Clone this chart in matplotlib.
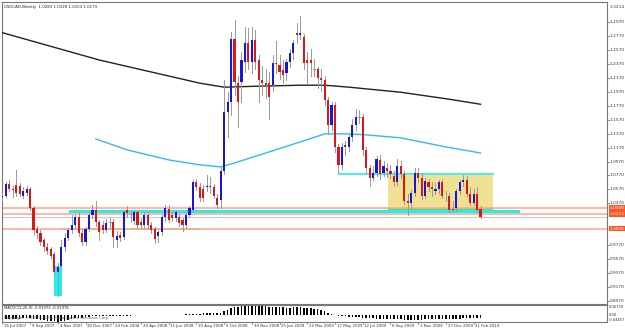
import matplotlib
matplotlib.use("Agg")
import matplotlib.pyplot as plt
from matplotlib.patches import Rectangle

# weekly USDCAD candles, bar 0 = 15 Jul 2007
opens = [1.046, 1.048, 1.065, 1.057, 1.064, 1.062, 1.048, 1.052, 1.057, 1.030,
         1.000, 0.995, 0.984, 0.974, 0.971, 0.964, 0.938, 0.947, 0.975, 0.988,
         0.999, 1.006, 1.017, 0.995, 0.982, 1.000, 1.020, 1.027, 1.010, 1.006,
         0.999, 1.010, 1.010, 0.985, 0.992, 0.989, 1.027, 1.022, 1.012, 1.024,
         1.010, 1.006, 1.020, 1.006, 1.000, 0.990, 0.996, 1.017, 1.029, 1.020,
         1.016, 1.017, 1.013, 1.006, 1.020, 1.027, 1.067, 1.060, 1.058, 1.060,
         1.062, 1.060, 1.045, 1.042, 1.084, 1.168, 1.182, 1.272, 1.210, 1.211,
         1.239, 1.267, 1.239, 1.271, 1.242, 1.214, 1.210, 1.210, 1.206, 1.238,
         1.235, 1.228, 1.224, 1.239, 1.252, 1.281, 1.278, 1.275, 1.242, 1.242,
         1.229, 1.229, 1.217, 1.214, 1.185, 1.149, 1.178, 1.118, 1.092, 1.120,
         1.118, 1.132, 1.149, 1.161, 1.161, 1.114, 1.087, 1.074, 1.081, 1.099,
         1.081, 1.088, 1.083, 1.076, 1.067, 1.090, 1.079, 1.041, 1.038, 1.052,
         1.081, 1.074, 1.048, 1.067, 1.060, 1.055, 1.058, 1.067, 1.048, 1.047,
         1.029, 1.030, 1.055, 1.067, 1.071, 1.051, 1.038, 1.051, 1.0283]
highs = [1.052, 1.068, 1.070, 1.062, 1.085, 1.066, 1.060, 1.062, 1.060, 1.033,
         1.004, 0.999, 0.988, 0.980, 0.975, 0.967, 0.952, 0.985, 0.995, 1.002,
         1.020, 1.022, 1.025, 1.000, 1.003, 1.024, 1.035, 1.040, 1.013, 1.012,
         1.014, 1.016, 1.014, 0.998, 0.996, 1.028, 1.033, 1.026, 1.028, 1.028,
         1.014, 1.024, 1.024, 1.010, 1.003, 0.998, 1.020, 1.035, 1.034, 1.024,
         1.027, 1.022, 1.016, 1.023, 1.033, 1.070, 1.072, 1.066, 1.064, 1.077,
         1.075, 1.065, 1.050, 1.089, 1.214, 1.196, 1.283, 1.300, 1.219, 1.254,
         1.290, 1.288, 1.290, 1.285, 1.249, 1.234, 1.229, 1.226, 1.249, 1.270,
         1.249, 1.242, 1.244, 1.259, 1.271, 1.295, 1.305, 1.280, 1.254, 1.259,
         1.244, 1.232, 1.229, 1.219, 1.189, 1.183, 1.183, 1.122, 1.124, 1.127,
         1.137, 1.158, 1.173, 1.171, 1.165, 1.118, 1.092, 1.090, 1.105, 1.106,
         1.098, 1.095, 1.092, 1.083, 1.100, 1.098, 1.084, 1.050, 1.056, 1.088,
         1.088, 1.080, 1.074, 1.072, 1.068, 1.066, 1.070, 1.072, 1.055, 1.052,
         1.040, 1.058, 1.070, 1.078, 1.076, 1.060, 1.058, 1.060, 1.0328]
lows = [1.040, 1.046, 1.054, 1.046, 1.047, 1.048, 1.044, 1.049, 1.028, 0.992,
        0.988, 0.978, 0.969, 0.964, 0.958, 0.934, 0.904, 0.944, 0.968, 0.984,
        0.995, 1.002, 0.990, 0.978, 0.978, 0.997, 1.016, 1.004, 0.985, 0.994,
        0.996, 1.002, 0.975, 0.974, 0.983, 0.986, 1.018, 1.010, 1.008, 1.002,
        1.002, 1.002, 1.002, 0.994, 0.980, 0.982, 0.992, 1.012, 1.010, 1.012,
        1.011, 1.005, 0.998, 1.002, 1.017, 1.024, 1.056, 1.040, 1.040, 1.055,
        1.052, 1.044, 1.030, 1.030, 1.079, 1.132, 1.163, 1.193, 1.147, 1.183,
        1.226, 1.229, 1.224, 1.229, 1.183, 1.193, 1.188, 1.158, 1.198, 1.224,
        1.216, 1.209, 1.214, 1.232, 1.244, 1.267, 1.273, 1.229, 1.209, 1.219,
        1.219, 1.203, 1.198, 1.178, 1.137, 1.142, 1.110, 1.081, 1.086, 1.107,
        1.112, 1.127, 1.142, 1.152, 1.107, 1.081, 1.062, 1.070, 1.076, 1.072,
        1.076, 1.075, 1.074, 1.062, 1.063, 1.074, 1.036, 1.020, 1.030, 1.048,
        1.068, 1.043, 1.044, 1.055, 1.048, 1.050, 1.052, 1.044, 1.040, 1.024,
        1.024, 1.026, 1.050, 1.062, 1.048, 1.034, 1.034, 1.024, 1.0153]
closes = [1.048, 1.065, 1.057, 1.056, 1.052, 1.051, 1.055, 1.058, 1.031, 0.999,
          0.995, 0.982, 0.974, 0.968, 0.961, 0.938, 0.946, 0.975, 0.988, 0.999,
          1.006, 1.017, 0.995, 0.981, 1.000, 1.020, 1.027, 1.010, 0.996, 0.999,
          1.009, 1.010, 0.989, 0.990, 0.987, 1.024, 1.023, 1.022, 1.024, 1.006,
          1.006, 1.020, 1.006, 0.999, 0.986, 0.996, 1.017, 1.030, 1.013, 1.016,
          1.024, 1.009, 1.006, 1.020, 1.030, 1.067, 1.060, 1.045, 1.045, 1.062,
          1.060, 1.048, 1.034, 1.084, 1.168, 1.182, 1.272, 1.211, 1.182, 1.242,
          1.267, 1.239, 1.271, 1.239, 1.214, 1.209, 1.206, 1.189, 1.238, 1.237,
          1.225, 1.221, 1.239, 1.252, 1.267, 1.278, 1.281, 1.238, 1.238, 1.238,
          1.229, 1.217, 1.214, 1.185, 1.149, 1.178, 1.118, 1.092, 1.118, 1.118,
          1.132, 1.149, 1.161, 1.161, 1.114, 1.087, 1.074, 1.081, 1.100, 1.079,
          1.090, 1.083, 1.079, 1.067, 1.090, 1.079, 1.041, 1.038, 1.052, 1.081,
          1.074, 1.048, 1.069, 1.060, 1.057, 1.058, 1.067, 1.048, 1.047, 1.027,
          1.028, 1.055, 1.067, 1.071, 1.051, 1.038, 1.051, 1.027, 1.0179]

# MACD(12,26,9) main values per bar
macd = [-0.030, -0.028, -0.026, -0.025, -0.023, -0.022, -0.020, -0.019, -0.020, -0.024,
        -0.027, -0.030, -0.033, -0.036, -0.038, -0.041, -0.043, -0.040, -0.036, -0.031,
        -0.026, -0.021, -0.018, -0.016, -0.013, -0.010, -0.008, -0.007, -0.007, -0.006,
        -0.005, -0.004, -0.005, -0.005, -0.005, -0.003, -0.002, -0.002, -0.001, -0.001,
        -0.001, 0.000, 0.000, -0.001, -0.001, 0.000, 0.001, 0.002, 0.002, 0.003,
        0.003, 0.004, 0.004, 0.005, 0.006, 0.008, 0.010, 0.011, 0.012, 0.013,
        0.013, 0.013, 0.012, 0.015, 0.025, 0.033, 0.045, 0.052, 0.055, 0.058,
        0.062, 0.064, 0.066, 0.066, 0.064, 0.062, 0.060, 0.057, 0.056, 0.055,
        0.053, 0.051, 0.050, 0.050, 0.051, 0.052, 0.052, 0.050, 0.048, 0.045,
        0.042, 0.038, 0.032, 0.025, 0.016, 0.010, 0.004, -0.002, -0.005, -0.008,
        -0.010, -0.011, -0.012, -0.013, -0.015, -0.017, -0.019, -0.021, -0.022, -0.023,
        -0.024, -0.025, -0.026, -0.027, -0.027, -0.028, -0.030, -0.031, -0.031, -0.030,
        -0.030, -0.029, -0.028, -0.028, -0.027, -0.026, -0.026, -0.026, -0.025, -0.024,
        -0.023, -0.022, -0.022, -0.021, -0.021, -0.020, -0.020, -0.020, -0.0197]

# moving averages, sampled at bar indices
ma_black_x = [0, 28, 57, 64, 74, 86, 93, 100, 115, 129, 138]
ma_black_y = [1.2817, 1.2425, 1.2093, 1.2036, 1.2050, 1.2064, 1.2064, 1.2036, 1.1963, 1.1863, 1.1791]
ma_blue_x = [27, 36, 48, 57, 63, 67, 77, 86, 93, 100, 105, 115, 118, 128, 138]
ma_blue_y = [1.1293, 1.1137, 1.0993, 1.0922, 1.0893, 1.0949, 1.1108, 1.1251, 1.1366, 1.1366,
             1.1352, 1.1309, 1.1279, 1.1179, 1.1092]

price_ticks = [0.8970, 0.9170, 0.9370, 0.9570, 0.9770, 1.0370, 1.0570, 1.0770,
               1.0970, 1.1170, 1.1370, 1.1570, 1.1770, 1.1970, 1.2170, 1.2370, 1.2570, 1.2770,
               1.2970]
top_label = "1.3214"
date_labels = ["15 Jul 2007", "9 Sep 2007", "4 Nov 2007", "30 Dec 2007", "24 Feb 2008",
               "20 Apr 2008", "15 Jun 2008", "10 Aug 2008", "5 Oct 2008", "30 Nov 2008",
               "25 Jan 2009", "22 Mar 2009", "17 May 2009", "12 Jul 2009", "6 Sep 2009",
               "1 Nov 2009", "27 Dec 2009", "21 Feb 2010"]
level_lines = [1.0308, 1.0213, 1.0009]
level_labels = ["1.0308", "1.0213", "1.0009"]
bid = 1.0179
macd_top, macd_bottom = 0.06739, -0.04457

W, H = 625, 330
fig = plt.figure(figsize=(W / 100, H / 100), dpi=100)
fig.patch.set_facecolor("white")

def box(x0, y0, x1, y1):
    return [x0 / W, 1 - y1 / H, (x1 - x0) / W, (y1 - y0) / H]

ax = fig.add_axes(box(2, 2, 607, 304))
am = fig.add_axes(box(2, 305, 607, 322), sharex=ax)

FS = 3.1
n = len(closes)
xs = list(range(n))

# highlight zones
ax.add_patch(Rectangle((111.3, 1.0246), 30.3, 1.0776 - 1.0246, color="#eedd88", alpha=0.9, lw=0, zorder=1))
ax.add_patch(Rectangle((111.3, 1.0260), 30.3, 0.0043, color="#55dd77", lw=0, zorder=2))
ax.add_patch(Rectangle((19.1, 1.0232), 130.3, 0.0043, color="#22eeee", lw=0, zorder=2))
ax.add_patch(Rectangle((17.1, 0.9988), 39.8, 0.0029, color="#99dd77", lw=0, zorder=2))
ax.add_patch(Rectangle((14.8, 0.9042), 2.3, 0.9472 - 0.9042, color="#22eeee", lw=0, zorder=2))
ax.plot([97.2, 141.6], [1.0784, 1.0784], color="#22eeee", lw=1.2, zorder=2)
for lv in level_lines:
    ax.axhline(lv, color="#ff9977", lw=1.1, zorder=2)
    ax.axhline(lv, color="#ffe0d5", lw=0.3, zorder=2)
ax.axhline(bid, color="#c0c0c0", lw=0.6, zorder=2)

ax.plot(ma_black_x, ma_black_y, color="#222222", lw=1.0, zorder=3)
ax.plot(ma_blue_x, ma_blue_y, color="#33bbee", lw=1.0, zorder=3)

for i in xs:
    o, h, l, c = opens[i], highs[i], lows[i], closes[i]
    ax.plot([i, i], [l, h], color="#999999", lw=0.7, zorder=4)
    if abs(c - o) < 0.0008:
        ax.plot([i - 0.35, i + 0.35], [c, c], color="#999999", lw=0.8, zorder=5)
        continue
    col = "#1515dd" if c > o else "#dd1515"
    ax.bar(i, c - o, bottom=o, width=0.62, color=col, lw=0, zorder=5)

ax.set_xlim(-0.1, 174.5)
ax.set_ylim(0.8927, 1.3257)

# MACD histogram
am.bar(xs, macd, width=0.45, color="black", lw=0)
am.set_ylim(macd_bottom, macd_top)

for a in (ax, am):
    a.set_xticks([])
    a.set_yticks([])
    for s in a.spines.values():
        s.set_color("#777777")
        s.set_linewidth(0.8)

# right price scale
ty = ax.get_yaxis_transform()
for p in price_ticks:
    ax.text(1.004, p, f"{p:.4f}", transform=ty, fontsize=FS, va="center", ha="left",
            color="#333333", clip_on=False)
    ax.plot([1.0, 1.003], [p, p], transform=ty, color="#777777", lw=0.6, clip_on=False)
ax.text(1.004, 0.99, top_label, transform=ax.transAxes, fontsize=FS, va="top", ha="left",
        color="#333333")
for lv, lab in zip(level_lines, level_labels):
    ax.text(1.004, lv, lab, transform=ty, fontsize=FS, va="center", ha="left",
            color="white", clip_on=False, zorder=7,
            bbox=dict(boxstyle="square,pad=0.2", fc="#ff5522", ec="none"))

tm = am.get_yaxis_transform()
am.text(1.003, macd_top, "0.06739", transform=tm, fontsize=2.6, va="top", ha="left", color="#333333")
am.text(1.003, 0.0, "0.00", transform=tm, fontsize=2.6, va="center", ha="left", color="#333333")
am.text(1.003, macd_bottom, "-0.04457", transform=tm, fontsize=2.6, va="bottom", ha="left",
        color="#333333")

# time scale
tx = am.get_xaxis_transform()
for k, lab in enumerate(date_labels):
    bx = 8 * k
    am.plot([bx, bx], [0, -0.1], transform=tx, color="#777777", lw=0.5, clip_on=False)
    am.text(bx + 0.5, -0.14, lab, transform=tx, fontsize=2.8, va="top", ha="left",
            color="#333333", clip_on=False)

ax.text(0.003, 0.99, "USDCAD,Weekly  1.0283 1.0328 1.0153 1.0179", transform=ax.transAxes,
        fontsize=2.8, va="top", ha="left", color="#222222")
am.text(0.003, 0.97, "MACD(12,26,9) -0.01972 -0.01976", transform=am.transAxes,
        fontsize=2.7, va="top", ha="left", color="#222222")
am.text(0.003, 0.12, "Copyright \u00a9 2001-2009, MetaQuotes Software Corp.", transform=am.transAxes,
        fontsize=2.9, va="bottom", ha="left", color="#666666")

fig.savefig("out.png", dpi=100)
